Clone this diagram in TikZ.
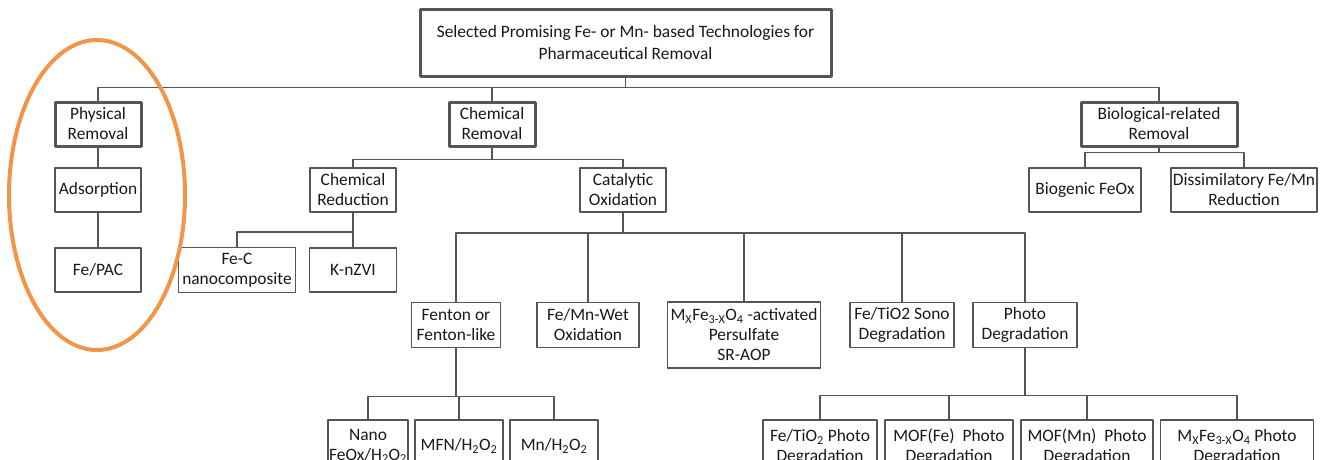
\documentclass[tikz,border=0pt]{standalone}
\usepackage{fontspec}
\setmainfont{Carlito}
\usepackage{xcolor}
\usepackage{tikz}
\usetikzlibrary{calc}
\definecolor{linegray}{RGB}{85,85,85}
\definecolor{ringorange}{RGB}{241,150,72}
\tikzset{
	box/.style={draw=linegray, line width=1.3pt, fill=white, align=center, inner sep=1pt,
		font=\fontsize{17.4}{20}\selectfont, text=black!90},
	mainbox/.style={box, line width=3pt},
	link/.style={draw=linegray, line width=1.4pt}
}

\begin{document}
\begin{tikzpicture}[x=1pt, y=-1pt, line cap=round, line join=round]
				\useasboundingbox (0,0) rectangle (1330,460);
				\node[mainbox, minimum width=411, minimum height=66, font=\fontsize{17.4}{22}\selectfont] (top) at (625.5,43) {Selected Promising Fe- or Mn- based Technologies for\\Pharmaceutical Removal};
				\node[mainbox, minimum width=86, minimum height=44] (phys) at (98,124) {Physical\\Removal};
				\node[mainbox, minimum width=86, minimum height=44] (chem) at (492,124) {Chemical\\Removal};
				\node[mainbox, minimum width=156, minimum height=44] (bio) at (1159,124) {Biological-related\\Removal};
				\node[box, minimum width=86, minimum height=44] (ads) at (98,190) {Adsorption};
				\node[box, minimum width=86, minimum height=44] (fepac) at (98,270) {Fe/PAC};
				\node[box, minimum width=86, minimum height=44] (chred) at (353,190) {Chemical\\Reduction};
				\node[box, minimum width=86, minimum height=44] (catox) at (623,190) {Catalytic\\Oxidation};
				\node[box, minimum width=112, minimum height=44] (biofe) at (1085,190) {Biogenic FeOx};
				\node[box, minimum width=146, minimum height=44] (dissim) at (1244,190) {Dissimilatory Fe/Mn\\Reduction};
				\node[box, minimum width=117, minimum height=45] (fec) at (237,270) {Fe-C\\nanocomposite};
				\node[box, minimum width=87, minimum height=44] (knzvi) at (353,270) {K-nZVI};
				\node[box, minimum width=89, minimum height=45] (fenton) at (456,325) {Fenton or\\Fenton-like};
				\node[box, minimum width=102, minimum height=45] (wetox) at (588,325) {Fe/Mn-Wet\\Oxidation};
				\node[box, minimum width=153, minimum height=66] (srao) at (744,335) {M\textsubscript{X}Fe\textsubscript{3-X}O\textsubscript{4} -activated\\Persulfate\\SR-AOP};
				\node[box, minimum width=104, minimum height=45] (sono) at (902,325) {Fe/TiO2 Sono\\Degradation};
				\node[box, minimum width=104, minimum height=45] (photo) at (1025,325) {Photo\\Degradation};
				\node[box, minimum width=79, minimum height=52] (nano) at (368,446) {Nano\\FeOx/H\textsubscript{2}O\textsubscript{2}};
				\node[box, minimum width=88, minimum height=52] (mfn) at (459,446) {MFN/H\textsubscript{2}O\textsubscript{2}};
				\node[box, minimum width=88, minimum height=52] (mnh) at (554,446) {Mn/H\textsubscript{2}O\textsubscript{2}};
				\node[box, minimum width=114, minimum height=54] (ftp) at (820,447) {Fe/TiO\textsubscript{2} Photo\\Degradation};
				\node[box, minimum width=128, minimum height=54] (moffe) at (949,447) {MOF(Fe)~ Photo\\Degradation};
				\node[box, minimum width=132, minimum height=54] (mofmn) at (1087,447) {MOF(Mn)~ Photo\\Degradation};
				\node[box, minimum width=153, minimum height=54] (mxp) at (1237,447) {M\textsubscript{X}Fe\textsubscript{3-X}O\textsubscript{4} Photo\\Degradation};
				\foreach \c in {phys,chem,bio} \draw[link] (\c.north) -- ++(0,-13) -| (top.south);
				\draw[link] (phys) -- (ads);
				\draw[link] (ads) -- (fepac);
				\foreach \c in {chred,catox} \draw[link] (\c.north) -- ++(0,-8) -| (chem.south);
				\foreach \c in {biofe,dissim} \draw[link] (\c.north) -- ++(0,-15) -| (bio.south);
				\foreach \c in {fec,knzvi} \draw[link] (\c.north) -- ++(0,-15) -| (chred.south);
				\foreach \c in {fenton,wetox,srao,sono,photo} \draw[link] (\c.north) -- ++(0,-69) -| (catox.south);
				\foreach \c in {nano,mfn,mnh} \draw[link] (\c.north) -- ++(0,-23) -| (fenton.south);
				\foreach \c in {ftp,moffe,mofmn,mxp} \draw[link] (\c.north) -- ++(0,-24) -| (photo.south);
				\draw[ringorange, line width=4pt] (97,195) ellipse (88 and 155);
			\end{tikzpicture}
\end{document}
